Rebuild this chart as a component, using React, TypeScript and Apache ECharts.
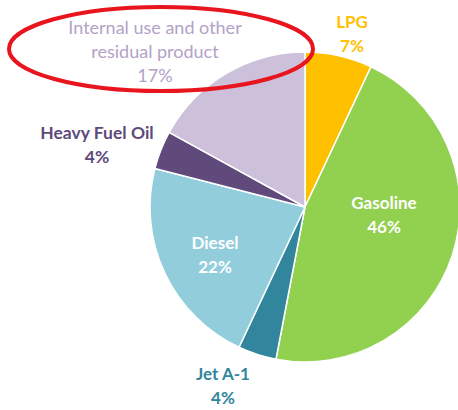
import React, { useEffect, useRef } from "react";
import * as echarts from "echarts";

const categories = [
  "LPG",
  "Gasoline",
  "Jet A-1",
  "Diesel",
  "Heavy Fuel Oil",
  "Internal use and other\nresidual product",
];
const shares = [7, 46, 4, 22, 4, 17];
const sliceColors = ["#FFC000", "#92D050", "#31859C", "#92CDDC", "#604A7B", "#CCC0DA"];
const labelColors = ["#FFC000", "#FFFFFF", "#31859C", "#FFFFFF", "#604A7B", "#B3A2C7"];
const labelWeights = ["bold", "bold", "bold", "bold", "bold", "normal"];
const labelSizes = [17, 17, 17, 17, 17.5, 18];
const labelPos: [number, number][] = [
  [352, 33],
  [384, 214],
  [223, 385],
  [215, 254],
  [97, 144],
  [155, 51],
];

export default function App() {
  const ref = useRef<HTMLDivElement>(null);
  useEffect(() => {
    document.body.style.margin = "0";
    const chart = echarts.init(ref.current!, null, { renderer: "svg" });
    chart.setOption({
      animation: false,
      backgroundColor: "#ffffff",
      series: [
        {
          type: "pie",
          center: [305, 207],
          radius: 155,
          startAngle: 90,
          clockwise: true,
          itemStyle: { borderColor: "#ffffff", borderWidth: 1.5 },
          labelLine: { show: false },
          label: {
            show: true,
            formatter: "{b}\n{c}%",
            fontFamily: "Lato, 'Open Sans', sans-serif",
            lineHeight: 24,
            align: "center",
            overflow: "none",
          },
          labelLayout: (p: any) => ({
            x: labelPos[p.dataIndex][0],
            y: labelPos[p.dataIndex][1],
            align: "center",
            verticalAlign: "middle",
          }),
          data: categories.map((name, i) => ({
            name,
            value: shares[i],
            itemStyle: { color: sliceColors[i] },
            label: {
              color: labelColors[i],
              fontWeight: labelWeights[i],
              fontSize: labelSizes[i],
              overflow: "none",
            },
          })),
        },
      ],
      graphic: [
        {
          type: "ellipse",
          shape: { cx: 161, cy: 49, rx: 152, ry: 42 },
          style: { fill: "none", stroke: "#E8141E", lineWidth: 4 },
          z: 100,
        },
      ],
    });
    return () => chart.dispose();
  }, []);
  return (
    <div
      ref={ref}
      style={{ position: "absolute", left: 0, top: 0, width: 458, height: 410 }}
    />
  );
}
